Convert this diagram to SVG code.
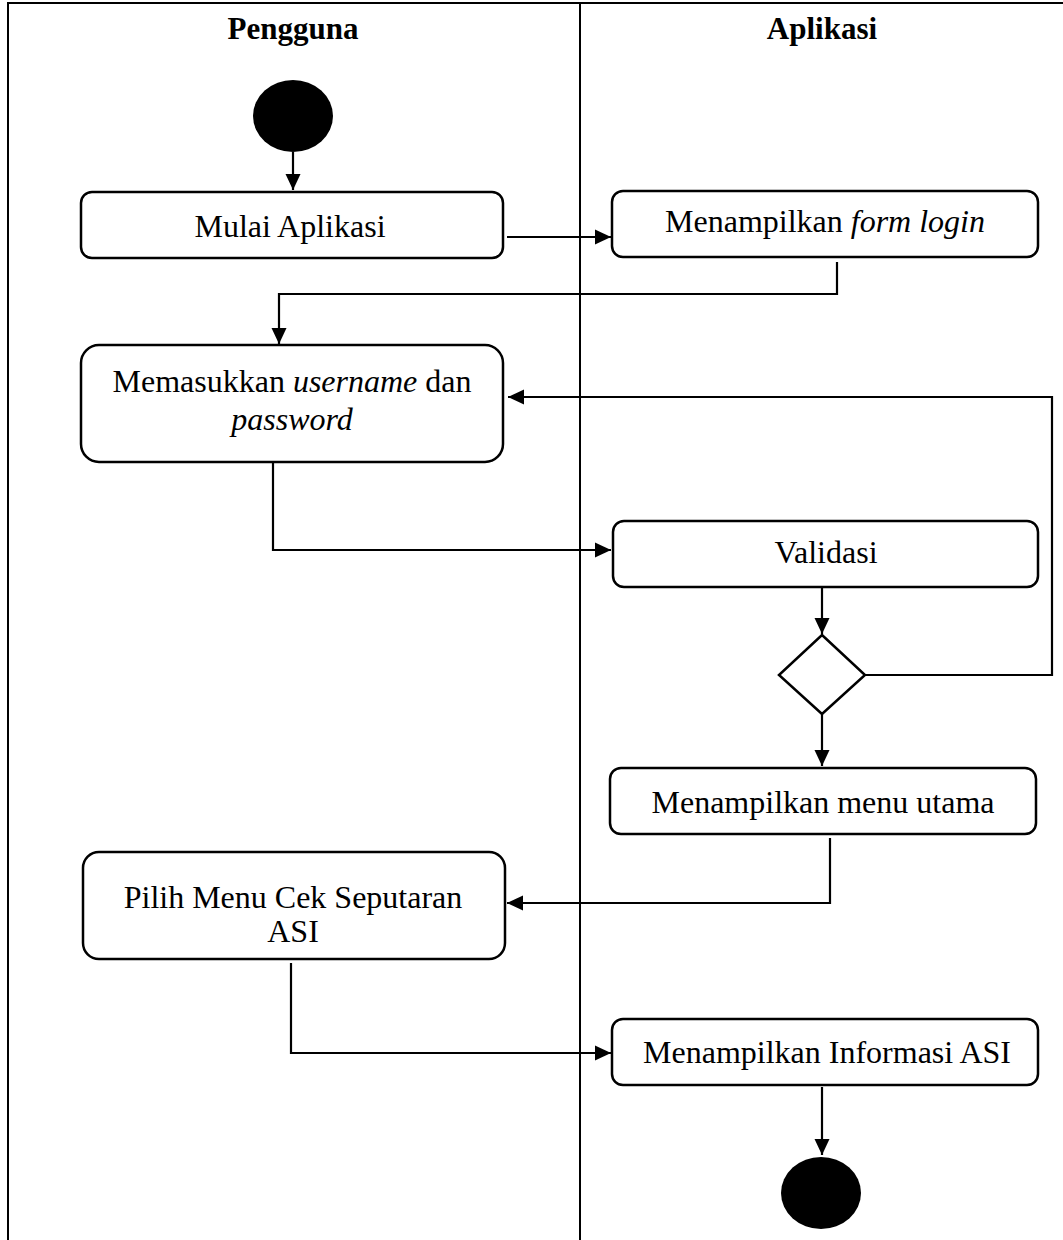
<svg xmlns="http://www.w3.org/2000/svg" width="1063" height="1240" viewBox="0 0 1063 1240">
  <style>
    .lane { fill: none; stroke: #000; stroke-width: 2; }
    .act { fill: #fff; stroke: #000; stroke-width: 2.5; }
    .dot { fill: #000; }
    .dec { fill: #fff; stroke: #000; stroke-width: 2.5; }
    .flow { fill: none; stroke: #000; stroke-width: 2.2; marker-end: url(#arrow); }
    .hdr { font-family: "Liberation Serif", "Times New Roman", serif; font-weight: bold; font-size: 31px; text-anchor: middle; }
    .lbl { font-family: "Liberation Serif", "Times New Roman", serif; font-size: 32px; text-anchor: middle; }
    .it { font-style: italic; }
  </style>
  <defs>
    <marker id="arrow" viewBox="0 0 16 16" refX="16" refY="8" markerWidth="16" markerHeight="16" markerUnits="userSpaceOnUse" orient="auto">
      <path d="M0,0.5 L16,8 L0,15.5 Z" fill="#000"/>
    </marker>
  </defs>
  <rect width="1063" height="1240" fill="#fff"/>

  <!-- swimlanes -->
  <g id="lanes">
    <path class="lane" d="M8,1240 V3 H1063"/>
    <path class="lane" d="M580,3 V1240"/>
    <text class="hdr" x="293" y="39">Pengguna</text>
    <text class="hdr" x="822" y="39">Aplikasi</text>
  </g>

  <!-- connectors -->
  <g id="connectors">
    <path class="flow" d="M293,152 V190"/>
    <path class="flow" d="M507,237 H611"/>
    <path class="flow" d="M837,262 V294 H279 V344"/>
    <path class="flow" d="M866,675 H1052 V397 H508"/>
    <path class="flow" d="M273,462 V550 H611"/>
    <path class="flow" d="M822,587 V634"/>
    <path class="flow" d="M822,714 V766"/>
    <path class="flow" d="M830,838 V903 H507"/>
    <path class="flow" d="M291,963 V1053 H611"/>
    <path class="flow" d="M822,1087 V1155"/>
  </g>

  <g id="start">
    <ellipse class="dot" cx="293" cy="116" rx="40" ry="36"/>
  </g>

  <g id="mulai">
    <rect class="act" x="81" y="192" width="422" height="66" rx="11"/>
    <text class="lbl" x="290" y="237">Mulai Aplikasi</text>
  </g>

  <g id="form-login">
    <rect class="act" x="612" y="191" width="426" height="66" rx="11"/>
    <text class="lbl" x="825" y="232">Menampilkan <tspan class="it">form login</tspan></text>
  </g>

  <g id="input-login">
    <rect class="act" x="81" y="345" width="422" height="117" rx="18"/>
    <text class="lbl" x="292" y="392">Memasukkan <tspan class="it">username</tspan> dan</text>
    <text class="lbl it" x="292" y="430">password</text>
  </g>

  <g id="validasi">
    <rect class="act" x="613" y="521" width="425" height="66" rx="11"/>
    <text class="lbl" x="826" y="563">Validasi</text>
  </g>

  <g id="decision">
    <polygon class="dec" points="822,635 865,675 822,714 779,675"/>
  </g>

  <g id="menu-utama">
    <rect class="act" x="610" y="768" width="426" height="66" rx="11"/>
    <text class="lbl" x="823" y="813">Menampilkan menu utama</text>
  </g>

  <g id="pilih-menu">
    <rect class="act" x="83" y="852" width="422" height="107" rx="16"/>
    <text class="lbl" x="293" y="908">Pilih Menu Cek Seputaran</text>
    <text class="lbl" x="293" y="942">ASI</text>
  </g>

  <g id="info-asi">
    <rect class="act" x="612" y="1019" width="426" height="66" rx="11"/>
    <text class="lbl" x="827" y="1063">Menampilkan Informasi ASI</text>
  </g>

  <g id="end">
    <ellipse class="dot" cx="821" cy="1193" rx="40" ry="36"/>
  </g>
</svg>
